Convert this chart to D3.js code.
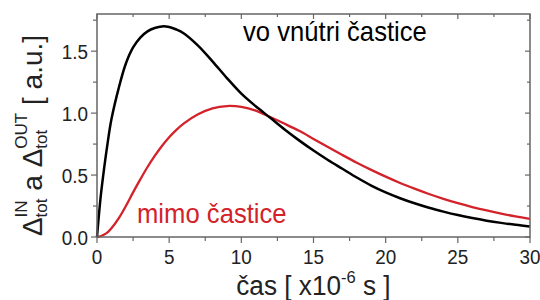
<!DOCTYPE html>
<html>
<head>
<meta charset="utf-8">
<script src="https://cdn.jsdelivr.net/npm/d3@7"></script>
<style>
  body { margin: 0; background: #fff; }
  svg { display: block; font-family: "Liberation Sans", Arial, sans-serif; }
</style>
</head>
<body>
<div id="chart"></div>
<script>
// time in microseconds
const times = [0, 0.25, 0.5, 0.75, 1, 1.5, 2, 2.5, 3, 3.5, 4, 4.5, 5, 5.5, 6, 7, 8, 9, 10, 11, 12, 13, 14, 15,
  16, 17, 18, 19, 20, 21, 22, 23, 24, 25, 26, 27, 28, 29, 30];
// vo vnutri castice (black)
const inside = [0, 0.32, 0.56, 0.77, 0.95, 1.2, 1.40, 1.53, 1.61, 1.66, 1.687, 1.70, 1.695, 1.675, 1.645, 1.545, 1.418,
  1.283, 1.157, 1.055, 0.962, 0.868, 0.78, 0.698, 0.622, 0.551, 0.48, 0.415, 0.36, 0.313, 0.272, 0.236, 0.205, 0.177,
  0.153, 0.132, 0.114, 0.098, 0.085];
// mimo castice (red)
const outside = [0, 0.006, 0.02, 0.04, 0.07, 0.15, 0.25, 0.36, 0.465, 0.565, 0.655, 0.735, 0.805, 0.865, 0.915, 0.99,
  1.038, 1.057, 1.05, 1.02, 0.968, 0.914, 0.857, 0.792, 0.726, 0.662, 0.60, 0.542, 0.487, 0.436, 0.39, 0.347, 0.308,
  0.273, 0.242, 0.214, 0.189, 0.166, 0.146];
const xTicks = [0, 5, 10, 15, 20, 25, 30];
const yTicks = [0, 0.5, 1.0, 1.5];

const width = 540, height = 300;
const margin = { top: 14, right: 10, bottom: 63, left: 97 };
const frameColor = "#666";
const red = "#d3222a";

const svg = d3.select("#chart").append("svg")
  .attr("width", width)
  .attr("height", height);

const x = d3.scaleLinear().domain([0, 30]).range([margin.left, width - margin.right]);
const y = d3.scaleLinear().domain([0, 1.8]).range([height - margin.bottom, margin.top]);

const x0 = x.range()[0], x1 = x.range()[1], y0 = y.range()[0], y1 = y.range()[1];

// curves
const line = d3.line()
  .x(d => x(d[0]))
  .y(d => y(d[1]))
  .curve(d3.curveCatmullRom.alpha(0.5));

svg.append("path")
  .datum(times.map((t, i) => [t, outside[i]]))
  .attr("fill", "none")
  .attr("stroke", red)
  .attr("stroke-width", 2.3)
  .attr("d", line);

svg.append("path")
  .datum(times.map((t, i) => [t, inside[i]]))
  .attr("fill", "none")
  .attr("stroke", "#000")
  .attr("stroke-width", 2.5)
  .attr("d", line);

// ticks: outward on bottom/left, inward on top/right
const xMinor = d3.range(0, 30.01, 2.5);
const yMinor = d3.range(0, 1.801, 0.25);
const tickG = svg.append("g").attr("stroke", frameColor).attr("stroke-width", 1.2);

xMinor.forEach(v => {
  const major = xTicks.includes(v);
  tickG.append("line").attr("x1", x(v)).attr("x2", x(v)).attr("y1", y0).attr("y2", y0 + (major ? 6 : 4));
  tickG.append("line").attr("x1", x(v)).attr("x2", x(v)).attr("y1", y1).attr("y2", y1 + (major ? 5 : 3));
});
yMinor.forEach(v => {
  const major = yTicks.some(t => Math.abs(t - v) < 1e-6);
  tickG.append("line").attr("y1", y(v)).attr("y2", y(v)).attr("x1", x0).attr("x2", x0 - (major ? 6 : 4));
  tickG.append("line").attr("y1", y(v)).attr("y2", y(v)).attr("x1", x1).attr("x2", x1 - (major ? 5 : 3));
});

// frame
svg.append("rect")
  .attr("x", x0).attr("y", y1)
  .attr("width", x1 - x0).attr("height", y0 - y1)
  .attr("fill", "none")
  .attr("stroke", frameColor)
  .attr("stroke-width", 1.5);

// tick labels
svg.append("g").selectAll("text")
  .data(xTicks)
  .enter().append("text")
  .attr("transform", d => "translate(" + x(d) + "," + (y0 + 27) + ") scale(0.9,1)")
  .attr("text-anchor", "middle")
  .attr("font-size", 21)
  .attr("fill", "#222")
  .text(d => d);

svg.append("g").selectAll("text")
  .data(yTicks)
  .enter().append("text")
  .attr("transform", d => "translate(" + (x0 - 9) + "," + (y(d) + 7.5) + ") scale(0.9,1)")
  .attr("text-anchor", "end")
  .attr("font-size", 21)
  .attr("fill", "#222")
  .text(d => d3.format(".1f")(d));

// series labels
svg.append("text")
  .attr("transform", "translate(243,41) scale(0.95,1)")
  .attr("font-size", 27)
  .attr("fill", "#000")
  .text("vo vnútri častice");

svg.append("text")
  .attr("transform", "translate(137,223) scale(0.95,1)")
  .attr("font-size", 27)
  .attr("fill", red)
  .text("mimo častice");

// x axis title
const xt = svg.append("text")
  .attr("font-size", 27)
  .attr("fill", "#222");
xt.append("tspan").text("čas\u00a0[\u00a0x10");
xt.append("tspan").attr("font-size", 17).attr("dy", -12).text("-6");
xt.append("tspan").attr("dy", 12).text("\u00a0s\u00a0]");
const xtw = xt.node().getComputedTextLength();
xt.attr("transform", "translate(" + ((x0 + x1) / 2 - xtw * 0.97 / 2) + ",295) scale(0.97,1)");

// y axis title, built piece by piece so sub/superscripts stack
const yt = svg.append("g").attr("fill", "#222");
let cursor = 0;
function piece(txt, size, dy) {
  const t = yt.append("text").attr("x", cursor).attr("y", dy).attr("font-size", size).text(txt);
  return t.node().getComputedTextLength();
}
function main(txt) { cursor += piece(txt, 28, 0); }
function stacked(sub, sup) {
  const a = piece(sub, 17, 5);
  const b = piece(sup, 17, -15);
  cursor += Math.max(a, b);
}
main("Δ");
stacked("tot", "IN");
main("\u00a0a\u00a0");
main("Δ");
stacked("tot", "OUT");
main("\u00a0[\u00a0a.u.]");
yt.attr("transform", "translate(42," + ((y0 + y1) / 2 + 10 + cursor / 2) + ") rotate(-90)");
</script>
</body>
</html>
